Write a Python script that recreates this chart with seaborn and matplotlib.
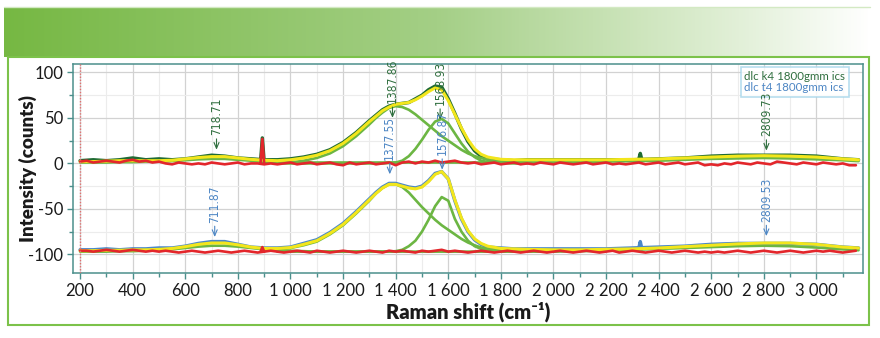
import numpy as np
import matplotlib
matplotlib.use("Agg")
import matplotlib.pyplot as plt
import seaborn as sns
from matplotlib.colors import LinearSegmentedColormap
from matplotlib.patches import Rectangle
from matplotlib.lines import Line2D
from matplotlib.ticker import MultipleLocator, FuncFormatter
from matplotlib import font_manager as fm

# ---------------- data ----------------
shift = [200, 250, 300, 350, 400, 450, 500, 550, 600, 650, 700, 750, 800, 850, 900, 950,
         1000, 1050, 1100, 1150, 1200, 1250, 1300,
         1325, 1350, 1375, 1400, 1425, 1450, 1475, 1500, 1525, 1550, 1575, 1600, 1625,
         1650, 1675, 1700, 1725, 1750,
         1800, 1850, 1900,
         2000, 2100, 2200, 2300, 2400, 2500, 2600, 2700, 2800, 2900, 3000, 3100,
         3160]

k4_raw = [3, 4, 3, 4, 6, 4, 5, 4, 5, 7, 9, 8, 6, 5, 4, 4, 5, 7, 10, 15, 23, 34, 47,
          53, 59, 63, 65, 66, 67, 71, 75, 81, 85, 84, 71, 55, 38, 24, 14, 8, 5,
          4, 3, 4,
          4, 4, 4, 4, 5, 6, 8, 9, 9, 9, 8, 5,
          4]
k4_fit = [2, 2, 2.5, 3, 3, 3, 3, 3.5, 5, 6.5, 7.5, 7.5, 6, 4.5, 3.5, 3, 4, 6, 9, 14, 22, 33, 46,
          52, 58, 62, 65, 66, 67, 70, 74, 79, 83, 81, 69, 54, 39, 26, 16, 10, 7,
          4.5, 4, 4,
          4, 4, 4, 4.5, 5, 6, 7, 8, 8.5, 8, 7, 5,
          4]
k4_bg = [1, 1, 1, 1.5, 1.5, 2, 2, 2.5, 3.5, 4.5, 5, 5, 4, 3, 2, 1.5, 1, 1, 1, 1, 1, 1, 1,
         1, 1, 1, 1, 1, 1, 1, 1, 1, 1, 1, 1, 1, 1, 1, 1, 1, 1,
         1, 1, 1,
         1, 1.5, 2, 2.5, 3, 4, 5, 5.5, 6, 5.5, 4.5, 3.5,
         2.5]

t4_raw = [-95, -95, -94, -95, -94, -94, -93, -93, -91, -88, -86, -86, -89, -92, -93, -93,
          -92, -88, -84, -76, -66, -53, -39,
          -32, -26, -22, -22, -24, -26, -27, -25, -19, -11, -9, -17, -41, -61, -75, -84, -89, -92,
          -93, -94, -94,
          -94, -94, -94, -93, -92, -91, -89, -88, -88, -88, -89, -92,
          -93]
t4_fit = [-96, -96, -95.5, -95.5, -95, -95, -94.5, -93.5, -91.5, -89, -87.5, -87.5, -89.5, -92,
          -93.5, -93.5, -92.5, -89, -85, -77, -67, -54, -40,
          -33, -27, -23, -23, -25, -27, -28, -26, -20, -12, -9, -17, -40, -60, -74, -83, -88, -91,
          -93.5, -94, -94.5,
          -95, -95, -94.5, -94, -93, -91.5, -90, -88.5, -87.5, -87.5, -89, -92,
          -93]
t4_bg = [-97, -97, -97, -96.5, -96.5, -96, -95.5, -94.5, -93, -91.5, -90.5, -90.5, -91.5, -93,
         -94.5, -95.5, -96, -96.5, -97, -97, -97, -97, -97,
         -97, -97, -97, -97, -97, -97, -97, -97, -97, -97, -97, -97, -97, -97, -97, -97, -97, -97,
         -97, -97, -97,
         -97, -96.5, -96, -95, -94, -93, -92, -91, -90.5, -91, -92.5, -94.5,
         -95.5]

band_shift = [950, 1000, 1050, 1100, 1150, 1200, 1250, 1300,
              1325, 1350, 1375, 1400, 1425, 1450, 1475, 1500, 1525, 1550, 1575, 1600, 1625,
              1650, 1675, 1700, 1725, 1750,
              1800, 1850, 1900]
k4_D = [0.5, 1, 3, 6, 11, 19, 30, 43,
        50, 56, 61, 63, 62, 59, 54, 48, 42, 36, 30, 25, 20, 15, 11, 8, 6, 4,
        2, 1, 0.5]
k4_G = [0, 0, 0, 0, 0, 0, 0, 0,
        0, 0, 0.5, 1, 3, 8, 16, 26, 37, 46, 49, 44, 33, 22, 13, 7, 3, 1.5,
        0.5, 0, 0]
t4_D = [-95, -93, -90, -86, -78, -68, -55, -41,
        -33, -27, -23, -23, -26, -32, -40, -48, -55, -62, -68, -73, -78, -83, -87, -90, -92.5, -94,
        -95.5, -96.5, -97]
t4_G = [-97, -97, -97, -97, -97, -97, -97, -97,
        -97, -97, -97, -96.5, -95, -91, -85, -75, -62, -47, -37, -41, -61, -75, -85, -91, -94, -96,
        -96.7, -97, -97]

res_shift = [200, 225, 250, 275, 300, 325, 350, 375, 400, 425, 450, 475, 500, 525, 550, 575, 600, 625, 650, 675,
             700, 725, 750, 775, 800, 825, 850, 875, 900, 925, 950, 975, 1000, 1025, 1050, 1075, 1100, 1125, 1150, 1175,
             1200, 1225, 1250, 1275, 1300, 1325, 1350, 1375, 1400, 1425, 1450, 1475, 1500, 1525, 1550, 1575, 1600, 1625, 1650, 1675,
             1700, 1725, 1750, 1775, 1800, 1825, 1850, 1875, 1900, 1925, 1950, 1975, 2000, 2025, 2050, 2075, 2100, 2125, 2150, 2175,
             2200, 2225, 2250, 2275, 2300, 2325, 2350, 2375, 2400, 2425, 2450, 2475, 2500, 2525, 2550, 2575, 2600, 2625, 2650, 2675,
             2700, 2725, 2750, 2775, 2800, 2825, 2850, 2875, 2900, 2925, 2950, 2975, 3000, 3025, 3050, 3075, 3100, 3125, 3150]
k4_res = [2, 3, 1, 2, 3, 2, 1, 3, 4, 2, 3, 1, 2, 0, -1, 1, 0, -1, 0, -1,
          1, 0, -1, 0, 1, -1, 0, 0, -1, 0, -1, 0, 1, -1, 0, 1, -1, 0, 1, -1,
          -2, 1, -1, 0, 1, -1, 0, 1, -2, 1, 2, 0, 2, 1, 3, 1, 2, 3, 1, 0,
          1, -1, 0, 1, -1, 0, 1, -1, 0, -1, 1, 0, -1, 1, 0, -1, 0, 1, -1, 0,
          1, -1, 0, -1, 0, 1, -1, 0, 1, -1, 0, 1, -1, 0, 1, -2, -1, -2, 0, -1,
          1, 0, -1, 1, 0, -1, 2, 1, 0, -1, 1, 0, -1, 1, 0, -1, 0, -2, -2]
t4_res = [-96, -96, -97, -96, -95, -96, -97, -96, -95, -96, -97, -96, -97, -96, -97, -98, -97, -96, -97, -98,
          -97, -96, -97, -98, -97, -96, -97, -98, -97, -96, -97, -98, -97, -96, -97, -98, -96, -97, -98, -97,
          -96, -97, -98, -97, -96, -97, -98, -96, -97, -96, -97, -98, -96, -97, -96, -95, -97, -96, -97, -98,
          -97, -96, -97, -98, -97, -96, -97, -98, -97, -96, -97, -98, -97, -96, -97, -98, -97, -96, -97, -98,
          -97, -96, -98, -97, -96, -97, -98, -97, -96, -97, -98, -97, -96, -97, -98, -97, -98, -97, -98, -97,
          -96, -97, -98, -97, -96, -97, -98, -97, -96, -97, -98, -97, -96, -97, -96, -97, -98, -97, -96]

# narrow spikes
spike_shift = [886, 893, 900]
k4_spike = [0, 27, 0]
t4_spike = [-97, -92, -97]
cosmic_shift = [2324, 2330, 2336]
k4_cosmic = [4, 11, 4]
t4_cosmic = [-94, -86, -94]

k4_peaks = [718.71, 1387.86, 1568.93, 2809.73]
t4_peaks = [711.87, 1377.55, 1576.87, 2809.53]
legend_labels = ["dlc k4 1800gmm ics", "dlc t4 1800gmm ics"]

# ---------------- style ----------------
sns.set_theme(style="white")
plt.rcParams["font.family"] = ["Lato", "DejaVu Sans"]
plt.rcParams["axes.unicode_minus"] = False

DKGREEN = "#1f6b33"
BLUE = "#4a87c8"
YELLOW = "#f3e61c"
GREEN = "#6cb643"
RED = "#e3262b"
SPINE = "#4b8f8c"
LBL_GREEN = "#2f6e3e"
LBL_BLUE = "#4d86c4"

# condensed face for the peak labels if present
_cond = fm.findfont(fm.FontProperties(family="DejaVu Sans", stretch="condensed"))
if "Condensed" in _cond:
    PEAK_FONT = dict(fontproperties=fm.FontProperties(fname=_cond, size=8.6))
else:
    PEAK_FONT = dict(fontsize=7.4, family="DejaVu Sans")

W, H = 880, 338
fig = plt.figure(figsize=(W / 100, H / 100), dpi=100)

# header gradient band
hax = fig.add_axes([4 / W, 1 - 57 / H, 866 / W, 50 / H])
cmap = LinearSegmentedColormap.from_list(
    "hdr", [(0, "#76b843"), (0.5, "#a4cf86"), (0.85, "#e2f0d8"), (1, "#ffffff")])
hax.imshow(np.linspace(0, 1, 512)[None, :], aspect="auto", cmap=cmap, extent=[0, 1, 0, 1])
hax.axis("off")
fig.add_artist(Line2D([4 / W, 870 / W], [1 - 7 / H, 1 - 7 / H], color="#d3e9c3", lw=1))
fig.add_artist(Rectangle((7.5 / W, 1 - 325 / H), 861.5 / W, 268 / H, fill=False,
                         ec="#7cc24a", lw=1.5, transform=fig.transFigure))

ax = fig.add_axes([73 / W, 1 - 273 / H, 790 / W, 208.7 / H])

lw = 1.9
# raw spectra
for x, y, c in [(shift, k4_raw, DKGREEN), (shift, t4_raw, BLUE),
                (cosmic_shift, k4_cosmic, DKGREEN), (cosmic_shift, t4_cosmic, BLUE),
                (spike_shift, [v + 1 for v in k4_spike], DKGREEN)]:
    sns.lineplot(x=x, y=y, ax=ax, color=c, lw=lw + 0.6, sort=False, estimator=None, legend=False)
# components
for x, y in [(shift, k4_bg), (shift, t4_bg), (band_shift, k4_D), (band_shift, k4_G),
             (band_shift, t4_D), (band_shift, t4_G)]:
    sns.lineplot(x=x, y=y, ax=ax, color=GREEN, lw=lw, sort=False, estimator=None, legend=False)
# fits
for y in [k4_fit, t4_fit]:
    sns.lineplot(x=shift, y=y, ax=ax, color=YELLOW, lw=lw + 0.3, sort=False, estimator=None, legend=False)
# residuals
for x, y in [(res_shift, k4_res), (res_shift, t4_res), (spike_shift, k4_spike), (spike_shift, t4_spike)]:
    sns.lineplot(x=x, y=y, ax=ax, color=RED, lw=lw, sort=False, estimator=None, legend=False)

ax.axvline(200, color="#e07070", ls=(0, (1, 1.2)), lw=1.0, zorder=5)

# peak labels
k4_label_base = [31, 66, 64, 30]
t4_label_base = [-65, 4, 9, -64]
for peaks, bases, col in [(k4_peaks, k4_label_base, LBL_GREEN), (t4_peaks, t4_label_base, LBL_BLUE)]:
    for p, b in zip(peaks, bases):
        ax.text(p, b, f"{p:.2f}", rotation=90, ha="center", va="bottom", color=col,
                zorder=6, **PEAK_FONT)
        ax.annotate("", xy=(p, b - 19), xytext=(p, b - 1),
                    arrowprops=dict(arrowstyle="->,head_length=0.35,head_width=0.15",
                                    color=col, lw=0.8), zorder=6)

# axes
ax.set_xlim(173, 3177)
ax.set_ylim(-120.5, 109)
ax.xaxis.set_major_locator(MultipleLocator(200))
ax.xaxis.set_minor_locator(MultipleLocator(100))
ax.yaxis.set_major_locator(MultipleLocator(50))
ax.yaxis.set_minor_locator(MultipleLocator(25))
ax.xaxis.set_major_formatter(FuncFormatter(lambda v, p: f"{v:,.0f}".replace(",", " ")))
ax.yaxis.set_major_formatter(FuncFormatter(lambda v, p: f"{v:.0f}"))
ax.grid(True, which="major", color="#d2d2d2", lw=0.9)
ax.grid(True, which="minor", color="#ececec", lw=0.8)
ax.set_axisbelow(True)
for s in ax.spines.values():
    s.set_color(SPINE)
    s.set_linewidth(1.1)
ax.tick_params(which="major", direction="out", length=4, width=1, color=SPINE,
               labelsize=12, labelcolor="#1a1a1a", left=True, bottom=True, pad=3)
ax.tick_params(which="minor", direction="out", length=3, width=1, color=SPINE, left=True, bottom=True)

ax.set_ylabel("Intensity (counts)", fontsize=13.5, fontweight="heavy", color="#1a1a1a")
ax.yaxis.set_label_coords(-0.045, 0.5)
ax.set_xlabel("Raman shift (cm\u207b\u00b9)", fontsize=14.5, fontweight="heavy", color="#1a1a1a")
ax.xaxis.set_label_coords(0.5, -0.135)

handles = [Line2D([], [], color="none") for _ in legend_labels]
leg = ax.legend(handles, legend_labels, loc="upper right", bbox_to_anchor=(0.982, 0.985),
                borderaxespad=0, frameon=True, fancybox=False, handlelength=0, handletextpad=0,
                fontsize=8.3, labelcolor=[LBL_GREEN, LBL_BLUE], labelspacing=0.05, borderpad=0.3)
leg.get_frame().set_edgecolor("#a6d6ea")
leg.get_frame().set_linewidth(1.2)

fig.savefig("out.png", dpi=100)
